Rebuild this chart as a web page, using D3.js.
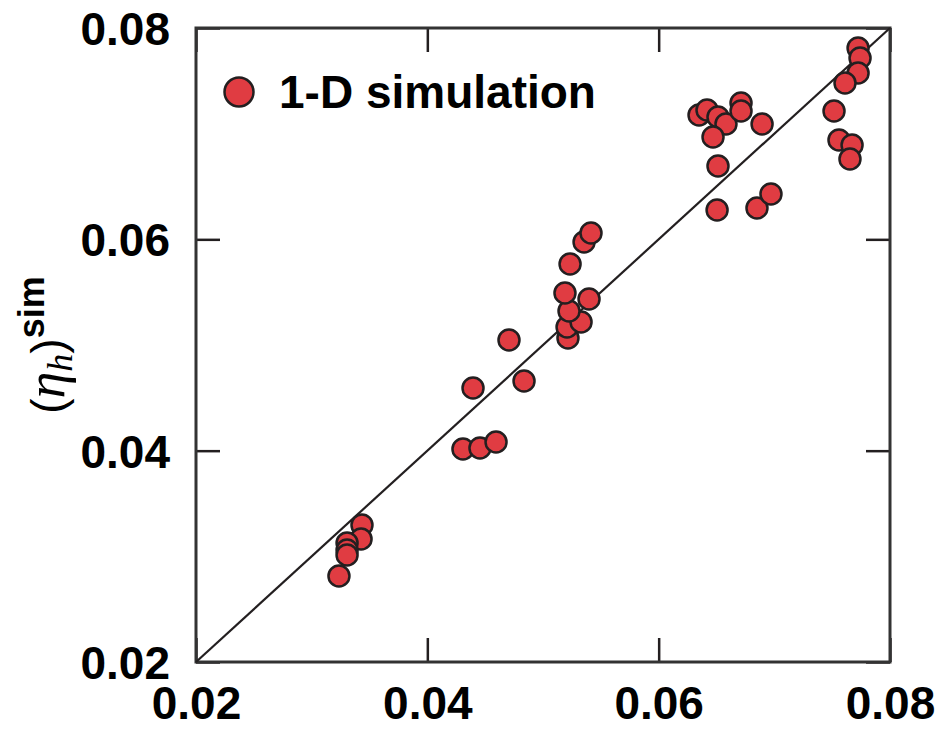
<!DOCTYPE html>
<html>
<head>
<meta charset="utf-8">
<script src="https://cdn.jsdelivr.net/npm/d3@7"></script>
<style>
  body { margin: 0; background: #fff; }
  text { font-family: "Liberation Sans", Arial, sans-serif; }
</style>
</head>
<body>
<div id="chart"></div>
<script>
(function() {
    let w = 945;
    let h = 729;

    // x = model value, y = 1-D simulation value
    let predicted = [
        0.03435, 0.03427, 0.03306, 0.03306, 0.03306, 0.03236,
        0.04308, 0.04455, 0.04594, 0.04395, 0.04836, 0.04706,
        0.05216, 0.05208, 0.05329, 0.05225, 0.05398, 0.05190,
        0.05234, 0.05355, 0.05415,
        0.06349, 0.06418, 0.06513, 0.06582, 0.06712, 0.06712,
        0.06894, 0.06470, 0.06513, 0.06505, 0.06850, 0.06971,
        0.07724, 0.07741, 0.07724, 0.07611, 0.07516, 0.07559,
        0.07672, 0.07654
    ];
    let simulated = [
        0.03297, 0.03164, 0.03126, 0.03060, 0.03013, 0.02814,
        0.04016, 0.04025, 0.04082, 0.04593, 0.04659, 0.05047,
        0.05066, 0.05170, 0.05218, 0.05322, 0.05435, 0.05492,
        0.05767, 0.05975, 0.06060,
        0.07177, 0.07224, 0.07158, 0.07092, 0.07290, 0.07215,
        0.07092, 0.06969, 0.06694, 0.06278, 0.06297, 0.06429,
        0.07811, 0.07716, 0.07574, 0.07480, 0.07215, 0.06940,
        0.06893, 0.06760
    ];
    let tickValues = [0.02, 0.04, 0.06, 0.08];
    let legendLabel = "1-D simulation";

    let points = predicted.map((d, i) => [d, simulated[i]]);

    let margin = {left: 196, right: 55, top: 28, bottom: 67};
    let pw = w - margin.left - margin.right;
    let ph = h - margin.top - margin.bottom;

    let svg = d3.select("#chart")
        .append("svg")
        .attr("width", w)
        .attr("height", h);

    let g = svg.append("g")
        .attr("transform", "translate(" + margin.left + "," + margin.top + ")");

    let x = d3.scaleLinear().domain([0.02, 0.08]).range([0, pw]);
    let y = d3.scaleLinear().domain([0.02, 0.08]).range([ph, 0]);

    let fmt = d3.format(".2f");
    let ink = "#231f20";
    let tickLen = 24;

    let styleAxis = (sel) => {
        sel.select(".domain").remove();
        sel.selectAll("line").attr("stroke", ink).attr("stroke-width", 2.5);
        sel.selectAll("text")
            .attr("fill", "#000")
            .style("font-family", "'Liberation Sans', Arial, sans-serif")
            .style("font-size", "46px")
            .style("font-weight", "bold");
    };

    // ticks on all four sides, pointing in
    let xBottom = g.append("g")
        .attr("transform", "translate(0," + ph + ")")
        .call(d3.axisBottom(x).tickValues(tickValues).tickSizeInner(-tickLen).tickSizeOuter(0).tickFormat(fmt));
    styleAxis(xBottom);
    xBottom.selectAll(".tick text").attr("y", 24).attr("dy", "0.71em");

    let yLeft = g.append("g")
        .call(d3.axisLeft(y).tickValues(tickValues).tickSizeInner(-tickLen).tickSizeOuter(0).tickFormat(fmt));
    styleAxis(yLeft);
    yLeft.selectAll(".tick text").attr("x", -26).attr("dy", "0.36em");

    let xTop = g.append("g")
        .call(d3.axisTop(x).tickValues(tickValues).tickSizeInner(-tickLen).tickSizeOuter(0).tickFormat(""));
    styleAxis(xTop);

    let yRight = g.append("g")
        .attr("transform", "translate(" + pw + ",0)")
        .call(d3.axisRight(y).tickValues(tickValues).tickSizeInner(-tickLen).tickSizeOuter(0).tickFormat(""));
    styleAxis(yRight);

    // frame
    g.append("rect")
        .attr("width", pw)
        .attr("height", ph)
        .attr("fill", "none")
        .attr("stroke", "#333")
        .attr("stroke-width", 3);

    // y = x reference line
    g.append("line")
        .attr("x1", x(0.02))
        .attr("y1", y(0.02))
        .attr("x2", x(0.08))
        .attr("y2", y(0.08))
        .attr("stroke", ink)
        .attr("stroke-width", 2.2);

    g.selectAll("circle.pt")
        .data(points)
        .enter()
        .append("circle")
        .attr("class", "pt")
        .attr("r", 10.5)
        .attr("cx", (d) => x(d[0]))
        .attr("cy", (d) => y(d[1]))
        .attr("fill", "#e03c42")
        .attr("stroke", ink)
        .attr("stroke-width", 2.5);

    // legend
    svg.append("circle")
        .attr("cx", 239)
        .attr("cy", 92)
        .attr("r", 14.5)
        .attr("fill", "#e03c42")
        .attr("stroke", ink)
        .attr("stroke-width", 2.5);
    svg.append("text")
        .attr("x", 279)
        .attr("y", 108)
        .style("font-size", "46px")
        .style("font-weight", "bold")
        .text(legendLabel);

    // y axis label
    let yl = svg.append("text")
        .attr("transform", "translate(64,345) rotate(-90)")
        .attr("text-anchor", "middle")
        .style("font-size", "46px");
    yl.append("tspan").text("(");
    yl.append("tspan")
        .style("font-family", "'Liberation Serif', 'Times New Roman', serif")
        .style("font-style", "italic")
        .style("font-size", "54px")
        .text("\u03b7");
    yl.append("tspan")
        .style("font-family", "'Liberation Serif', 'Times New Roman', serif")
        .style("font-style", "italic")
        .style("font-size", "36px")
        .attr("dy", 8)
        .text("h");
    yl.append("tspan").attr("dy", -8).text(")");
    yl.append("tspan")
        .style("font-size", "36px")
        .style("font-weight", "bold")
        .attr("dy", -20)
        .text("sim");
})();
</script>
</body>
</html>
